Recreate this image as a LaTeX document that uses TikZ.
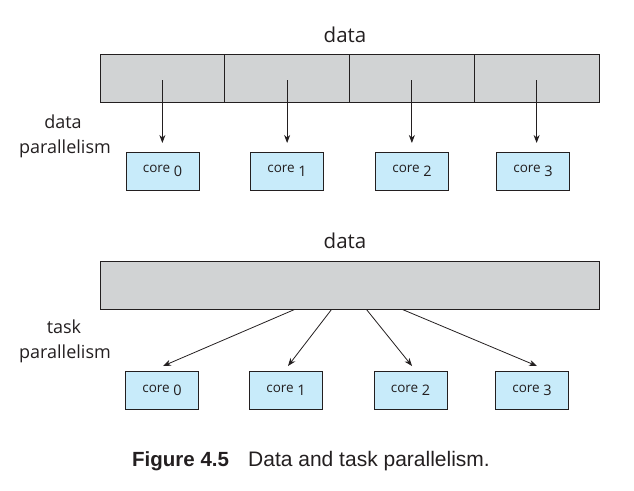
\documentclass[tikz,border=0pt]{standalone}
\usepackage{fontspec}
\setmainfont{Open Sans}
\newfontfamily\capfont{Liberation Sans}
\usetikzlibrary{arrows.meta,calc}
\definecolor{bargray}{HTML}{D1D3D4}
\definecolor{coreblue}{HTML}{C8EBFA}
\definecolor{linec}{HTML}{231F20}
\tikzset{
  cell/.style={draw=linec,line width=1pt,fill=bargray,minimum width=124.75pt,minimum height=48pt,inner sep=0pt},
  bigbar/.style={draw=linec,line width=1pt,fill=bargray,minimum width=499pt,minimum height=48pt,inner sep=0pt},
  corebox/.style={draw=linec,line width=1pt,fill=coreblue,minimum width=73pt,minimum height=38pt,inner sep=0pt,font=\fontsize{13.5}{15}\selectfont,text=linec},
  arr/.style={draw=linec,line width=0.8pt,-{Stealth[length=8pt,width=6pt,inset=2.5pt]}},
  title/.style={anchor=base,font=\fontsize{20.5}{24}\selectfont,text=linec},
  side/.style={anchor=base,font=\fontsize{18}{20}\selectfont,text=linec},
}
\newcommand{\coretext}[1]{core\hspace{3.5pt}\raisebox{-3.5pt}{\fontsize{14.5}{15}\selectfont #1}}
\begin{document}
\begin{tikzpicture}[x=1pt,y=-1pt]
\useasboundingbox (0,0) rectangle (634,490);
% top: data parallelism
\node[title] (dtop) at (345,42) {data};
\node[cell] (t0) at (162.375,78) {};
\node[cell] (t1) at (287.125,78) {};
\node[cell] (t2) at (411.875,78) {};
\node[cell] (t3) at (536.625,78) {};
\node[side] (dl1) at (63,128) {data};
\node[side] (dl2) at (65,153) {parallelism};
\node[corebox] (c0) at (162.5,171) {\coretext{0}};
\node[corebox] (c1) at (287,171) {\coretext{1}};
\node[corebox] (c2) at (412,171) {\coretext{2}};
\node[corebox] (c3) at (533,171) {\coretext{3}};
\foreach \i in {0,1,2,3}{
  \coordinate (ts\i) at ($(t\i.center)+(0,2)$);
  \coordinate (te\i) at ($(t\i.center)+(0,65)$);
  \draw[arr] (ts\i) -- (te\i);
}
% bottom: task parallelism
\node[title] (dbot) at (345,248) {data};
\node[bigbar] (bar) at (349.5,285) {};
\node[side] (tl1) at (64,333) {task};
\node[side] (tl2) at (65,358) {parallelism};
\node[corebox] (d0) at (162,390.5) {\coretext{0}};
\node[corebox] (d1) at (286,390.5) {\coretext{1}};
\node[corebox] (d2) at (410.5,390.5) {\coretext{2}};
\node[corebox] (d3) at (532,390.5) {\coretext{3}};
\coordinate (bs0) at ($(bar.south west)+(195,0)$);
\coordinate (bs1) at ($(bar.south west)+(232,0)$);
\coordinate (bs2) at ($(bar.south west)+(267,0)$);
\coordinate (bs3) at ($(bar.south west)+(303,0)$);
\coordinate (be0) at ($(d0.north)+(1,-5)$);
\coordinate (be1) at ($(d1.north)+(2,-5)$);
\coordinate (be2) at ($(d2.north)+(1.5,-5)$);
\coordinate (be3) at ($(d3.north)+(5,-5)$);
\foreach \i in {0,1,2,3}{
  \draw[arr] (bs\i) -- (be\i);
}
% caption
\node[anchor=base west,inner sep=0pt,font=\capfont\bfseries\fontsize{20.5}{22}\selectfont,text=linec] (cap1) at (132,466) {Figure 4.5};
\node[anchor=base west,inner sep=0pt,font=\capfont\fontsize{21}{22}\selectfont,text=linec] (cap2) at (248,466) {Data and task parallelism.};
\end{tikzpicture}
\end{document}
